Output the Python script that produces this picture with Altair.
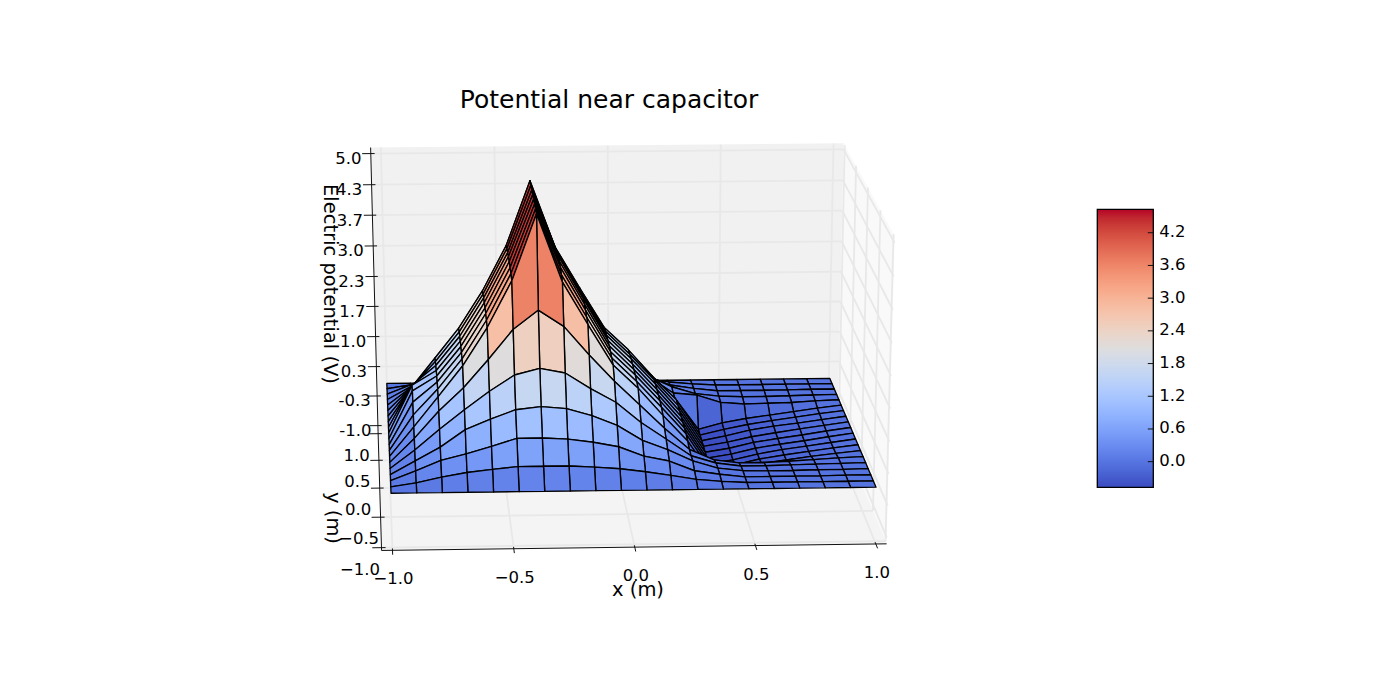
import altair as alt
import numpy as np
import pandas as pd

# ---------- values ----------
grid_x = [-1 + 2 * k / 19 for k in range(20)]
grid_y = [-1 + 2 * j / 19 for j in range(20)]

# potential at every grid node: one list per x column, running from y=-1 to y=+1
z_columns = [
    [0] * 20,
    [0, .08, .2, .28, .38, .5, .62, .75, .9, 1.02, 1.02, .9, .75, .62, .5, .38, .28, .2, .08, 0],
    [0, .19, .41, .56, .81, 1.07, 1.25, 1.29, 1.32, 1.33, 1.33, 1.32, 1.29, 1.25, 1.07, .81, .56, .41, .19, 0],
    [0, .28, .54, .92, 1.21, 1.55, 1.89, 1.92, 1.94, 1.95, 1.95, 1.94, 1.92, 1.89, 1.55, 1.21, .92, .54, .28, 0],
    [0, .34, .69, 1.13, 1.59, 2.13, 2.68, 2.72, 2.75, 2.76, 2.76, 2.75, 2.72, 2.68, 2.13, 1.59, 1.13, .69, .34, 0],
    [0, .39, .85, 1.32, 1.92, 2.75, 3.64, 3.68, 3.7, 3.72, 3.72, 3.7, 3.68, 3.64, 2.75, 1.92, 1.32, .85, .39, 0],
    [0, .39, .85, 1.38, 2.05, 3.14, 5, 5, 5, 5, 5, 5, 5, 5, 3.14, 2.05, 1.38, .85, .39, 0],
    [0, .39, .82, 1.33, 1.95, 2.8, 3.6, 3.65, 3.7, 3.72, 3.72, 3.7, 3.65, 3.6, 2.8, 1.95, 1.33, .82, .39, 0],
    [0, .36, .75, 1.18, 1.62, 2.2, 2.72, 2.76, 2.8, 2.82, 2.82, 2.8, 2.76, 2.72, 2.2, 1.62, 1.18, .75, .36, 0],
    [0, .32, .65, .97, 1.33, 1.65, 1.87, 1.9, 1.92, 1.93, 1.93, 1.92, 1.9, 1.87, 1.65, 1.33, .97, .65, .32, 0],
    [0, .25, .45, .65, .9, 1.15, 1.38, 1.4, 1.42, 1.42, 1.42, 1.42, 1.4, 1.38, 1.15, .9, .65, .45, .25, 0],
    [0, .17, .34, .45, .55, .65, .8, .85, .87, .87, .87, .87, .85, .8, .65, .55, .45, .34, .17, 0],
    [0, .08, .13, .21, .19, .2, .25, .28, .28, .28, .28, .28, .28, .28, .2, .19, .21, .13, .08, 0],
    [0, .03, .05, .05, .03, -.03, -.5, -.5, -.5, -.5, -.5, -.5, -.5, -.5, -.5, .14, .05, .05, .03, 0],
    [0, 0, -.01, -.01, -.04, -.1, -.37, -.4, -.42, -.42, -.42, -.41, -.4, -.38, -.36, -.03, -.01, -.01, 0, 0],
    [0, 0, -.01, -.02, -.04, -.1, -.25, -.28, -.3, -.3, -.3, -.3, -.28, -.28, -.27, -.07, -.03, -.01, 0, 0],
    [0, 0, -.01, -.02, -.03, -.08, -.18, -.2, -.21, -.22, -.22, -.22, -.2, -.2, -.2, -.06, -.03, -.01, 0, 0],
    [0, 0, -.01, -.01, -.02, -.05, -.11, -.13, -.14, -.15, -.15, -.14, -.14, -.13, -.13, -.05, -.02, -.01, 0, 0],
    [0, 0, 0, -.01, -.01, -.02, -.05, -.06, -.07, -.07, -.07, -.07, -.07, -.06, -.06, -.02, -.01, 0, 0, 0],
    [0] * 20,
]

x_ticks = [-1.0, -0.5, 0.0, 0.5, 1.0]
x_tick_labels = ["\u22121.0", "\u22120.5", "0.0", "0.5", "1.0"]
y_ticks = [-1.0, -0.5, 0.0, 0.5, 1.0]
y_tick_labels = ["\u22121.0", "\u22120.5", "0.0", "0.5", "1.0"]
z_ticks = [5.0, 4.33, 3.67, 3.0, 2.33, 1.67, 1.0, 0.33, -0.33, -1.0]
z_tick_labels = ["5.0", "4.3", "3.7", "3.0", "2.3", "1.7", "1.0", "0.3", "-0.3", "-1.0"]
cbar_ticks = [0.0, 0.6, 1.2, 1.8, 2.4, 3.0, 3.6, 4.2]
cbar_min, cbar_max = -0.47, 4.63

coolwarm = ["#3b4cc0", "#445acc", "#4d68d7", "#5775e1", "#6282ea", "#6c8ef1", "#779af7", "#82a5fb",
            "#8db0fe", "#98b9ff", "#a3c2ff", "#aec9fd", "#b8d0f9", "#c2d5f4", "#ccd9ee", "#d5dbe6",
            "#dddddd", "#e5d8d1", "#ecd3c5", "#f1ccb9", "#f5c4ad", "#f7bba0", "#f7b194", "#f7a687",
            "#f49a7b", "#f18d6f", "#ec7f63", "#e57058", "#de604d", "#d55042", "#cb3e38", "#c0282f",
            "#b40426"]

# ---------- camera: box and surface corners in world units and where they sit on the page ----------
xb, yb, zlo, zhi = 1.045, 1.045, -1.13, 5.13
cam_world = [(-1, -1, 0), (1, -1, 0), (-1, 1, 0), (1, 1, 0),
             (-xb, yb, zhi), (xb, yb, zhi), (-xb, yb, zlo),
             (-xb, -yb, zlo), (xb, -yb, zlo), (xb, -yb, zhi)]
cam_page = [(390, 494), (877, 487), (387, 384), (830, 378),
            (371, 147), (843, 143), (378, 432),
            (382, 549), (886, 544), (895, 237)]

rows, rhs = [], []
for (X, Y, Z), (u, v) in zip(cam_world, cam_page):
    rows.append([X, Y, Z, 1, 0, 0, 0, 0, -u * X, -u * Y, -u * Z]); rhs.append(u)
    rows.append([0, 0, 0, 0, X, Y, Z, 1, -v * X, -v * Y, -v * Z]); rhs.append(v)
sol = np.linalg.lstsq(np.array(rows, float), np.array(rhs, float), rcond=None)[0]
P = np.append(sol, 1.0).reshape(3, 4)


def proj(X, Y, Z):
    h = P @ np.array([X, Y, Z, 1.0])
    return float(h[0] / h[2]), float(h[1] / h[2])


def depth(X, Y, Z):
    return float(P[2] @ np.array([X, Y, Z, 1.0]))


def polygon(corners, **props):
    ring = [list(proj(*c)) for c in corners]
    ring.append(ring[0])
    return {"type": "Feature", "geometry": {"type": "Polygon", "coordinates": [ring]}, "properties": props}


def seg(a, b):
    p, q = proj(*a), proj(*b)
    return {"x": p[0], "y": p[1], "x2": q[0], "y2": q[1]}


# ---------- scales: one unit is one page pixel ----------
PX = alt.Scale(domain=[8, 1392], nice=False, zero=False)
PY = alt.Scale(domain=[688, 8], nice=False, zero=False)
GEO = dict(type="identity", scale=1, translate=[-8, -8])


def rules(df, color, width):
    return alt.Chart(pd.DataFrame(df)).mark_rule(color=color, strokeWidth=width).encode(
        x=alt.X("x:Q", scale=PX, axis=None), y=alt.Y("y:Q", scale=PY, axis=None),
        x2="x2:Q", y2="y2:Q")


def texts(df, size, angle=0, align="center"):
    return alt.Chart(pd.DataFrame(df)).mark_text(
        font="DejaVu Sans", fontSize=size, angle=angle, align=align, baseline="middle", color="black"
    ).encode(x=alt.X("x:Q", scale=PX, axis=None), y=alt.Y("y:Q", scale=PY, axis=None), text="t:N")


def wall(corners, color):
    return alt.Chart(alt.Data(values=[polygon(corners)])).mark_geoshape(
        fill=color, strokeWidth=0).project(**GEO)


# ---------- walls and grid ----------
wall_back = wall([(-xb, yb, zlo), (xb, yb, zlo), (xb, yb, zhi), (-xb, yb, zhi)], "#f1f1f1")
wall_right = wall([(xb, -yb, zlo), (xb, yb, zlo), (xb, yb, zhi), (xb, -yb, zhi)], "#f9f9f9")
wall_floor = wall([(-xb, -yb, zlo), (xb, -yb, zlo), (xb, yb, zlo), (-xb, yb, zlo)], "#f4f4f4")

grid = []
for x in x_ticks:
    grid.append(seg((x, yb, zlo), (x, yb, zhi)))
    grid.append(seg((x, -yb, zlo), (x, yb, zlo)))
for y in y_ticks:
    grid.append(seg((xb, y, zlo), (xb, y, zhi)))
    grid.append(seg((-xb, y, zlo), (xb, y, zlo)))
for z in z_ticks:
    grid.append(seg((-xb, yb, z), (xb, yb, z)))
    grid.append(seg((xb, -yb, z), (xb, yb, z)))
grid_layer = rules(grid, "#e8e8e8", 1.8)

# ---------- axes ----------
axis_lines = [seg((-xb, yb, zlo), (-xb, yb, zhi)),
              seg((-xb, -yb, zlo), (-xb, yb, zlo)),
              seg((-xb, -yb, zlo), (xb, -yb, zlo))]
axis_lines += [seg((-xb - .038, yb, z), (-xb + .017, yb, z)) for z in z_ticks]
axis_lines += [seg((-xb - .038, y, zlo), (-xb + .017, y, zlo)) for y in y_ticks]
axis_lines += [seg((x, -yb - .07, zlo), (x, -yb + .03, zlo)) for x in x_ticks]
axis_layer = rules(axis_lines, "#111111", 1)

tick_text = []
for z, t in zip(z_ticks, z_tick_labels):
    p = proj(-xb, yb, z)
    tick_text.append({"x": p[0] - 22.5, "y": p[1] + 5.5, "t": t})
for y, t in zip(y_ticks, y_tick_labels):
    p = proj(-xb, y, zlo)
    tick_text.append({"x": p[0] - 21.5, "y": p[1] + 22, "t": t})
for x, t in zip(x_ticks, x_tick_labels):
    p = proj(x, -yb, zlo)
    tick_text.append({"x": p[0] + 1, "y": p[1] + 29, "t": t})
tick_layer = texts(tick_text, 16.5)

# ---------- surface, painted far to near ----------
Z = np.array(z_columns, float)
faces = []
for k in range(19):
    for j in range(19):
        c = [(grid_x[k], grid_y[j], Z[k, j]), (grid_x[k + 1], grid_y[j], Z[k + 1, j]),
             (grid_x[k + 1], grid_y[j + 1], Z[k + 1, j + 1]), (grid_x[k], grid_y[j + 1], Z[k, j + 1])]
        faces.append((np.mean([depth(*q) for q in c]), polygon(c, v=float(np.mean([q[2] for q in c])))))
sign = 1 if depth(0, 1, 0) > depth(0, -1, 0) else -1
faces.sort(key=lambda f: -sign * f[0])

stops = [cbar_min + (cbar_max - cbar_min) * i / (len(coolwarm) - 1) for i in range(len(coolwarm))]
surface_layer = alt.Chart(alt.Data(values=[f[1] for f in faces])).mark_geoshape(
    stroke="black", strokeWidth=1.35, strokeJoin="round"
).encode(
    color=alt.Color("properties.v:Q", legend=None,
                    scale=alt.Scale(domain=stops, range=coolwarm, interpolate="rgb", clamp=True))
).project(**GEO)

# ---------- colorbar ----------
bar_left, bar_right, bar_top, bar_bottom = 1097.3, 1153.3, 209.3, 487.3


def bar_y(v):
    return bar_bottom - (v - cbar_min) / (cbar_max - cbar_min) * (bar_bottom - bar_top)


gradient = alt.Gradient(gradient="linear", x1=0, x2=0, y1=1, y2=0,
                        stops=[alt.GradientStop(offset=i / (len(coolwarm) - 1), color=c)
                               for i, c in enumerate(coolwarm)])
bar_layer = alt.Chart(pd.DataFrame([{"x": bar_left, "x2": bar_right, "y": bar_top, "y2": bar_bottom}])).mark_rect(
    color=gradient, stroke="black", strokeWidth=1.3
).encode(x=alt.X("x:Q", scale=PX, axis=None), x2="x2:Q", y=alt.Y("y:Q", scale=PY, axis=None), y2="y2:Q")
bar_ticks = rules([{"x": bar_right - 5.5, "x2": bar_right, "y": bar_y(v), "y2": bar_y(v)} for v in cbar_ticks],
                  "#111111", 1)
bar_text = texts([{"x": bar_right + 6, "y": bar_y(v) - 0.5, "t": f"{v:.1f}"} for v in cbar_ticks], 16.5, align="left")

# ---------- titles ----------
title_layer = texts([{"x": 609, "y": 100, "t": "Potential near capacitor"}], 25)
xlabel_layer = texts([{"x": 638, "y": 590, "t": "x (m)"}], 19.5)
zlabel_layer = texts([{"x": 330, "y": 284, "t": "Electric potential (V)"},
                      {"x": 333, "y": 518, "t": "y (m)"}], 19.5, angle=90)

chart = alt.layer(
    wall_back, wall_right, wall_floor, grid_layer, axis_layer, surface_layer, tick_layer,
    bar_layer, bar_ticks, bar_text, title_layer, xlabel_layer, zlabel_layer
).properties(width=1384, height=680, padding=0, autosize="none", background="white").configure_view(stroke=None)

chart.save("out.html", embed_options={"renderer": "svg", "actions": False})
